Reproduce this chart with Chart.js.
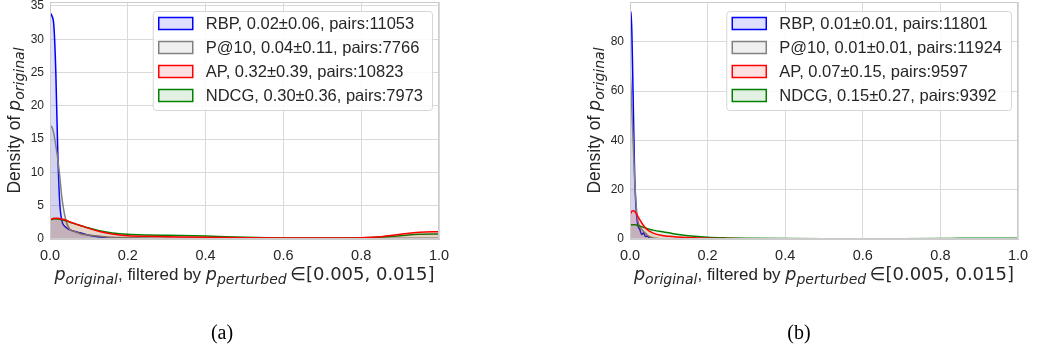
<!DOCTYPE html>
<html>
<head>
<meta charset="utf-8">
<script src="https://cdn.jsdelivr.net/npm/chart.js"></script>
<style>
  body { margin: 0; background: #fff; }
  #wrap { position: relative; width: 1041px; height: 348px; overflow: hidden; }
  canvas { position: absolute; top: 0; }
</style>
</head>
<body>
<div id="wrap">
  <canvas id="chartA" width="470" height="348" style="left:0px"></canvas>
  <canvas id="chartB" width="481" height="348" style="left:560px"></canvas>
</div>
<script>
// metrics, shared by both panels
const metrics = ['RBP', 'P@10', 'AP', 'NDCG'];
const lineColors = ['#0000ff', '#808080', '#ff0000', '#008000'];
const fillColors = ['rgba(0,0,255,0.13)', 'rgba(128,128,128,0.13)', 'rgba(255,0,0,0.12)', 'rgba(0,128,0,0.11)'];

// panel (a): legend stats
const meanA = ['0.02', '0.04', '0.32', '0.30'];
const sdA = ['0.06', '0.11', '0.39', '0.36'];
const pairsA = [11053, 7766, 10823, 7973];

// panel (a): density curves
const xA = [0, 0.005, 0.01, 0.015, 0.02, 0.025, 0.03, 0.04, 0.05, 0.06, 0.08, 0.1, 0.13, 0.16, 0.2, 0.25, 0.3, 0.4, 0.5, 0.6, 0.7, 0.8, 0.85, 0.9, 0.95, 1.0];
const rbpA = [34, 33.5, 32, 25, 13, 5.5, 2.9, 1.8, 1.4, 1.2, 0.9, 0.55, 0.3, 0.12, 0.08, 0.05, 0.05, 0.05, 0.04, 0.04, 0.04, 0.04, 0.04, 0.04, 0.04, 0.04];
const p10A = [17, 16.8, 15.8, 14, 12, 9.5, 6.5, 3, 1.5, 1.2, 0.75, 0.6, 0.4, 0.25, 0.2, 0.15, 0.12, 0.1, 0.1, 0.1, 0.1, 0.1, 0.1, 0.1, 0.1, 0.1];
const apA = [2.9, 3.0, 3.1, 3.1, 3.1, 3.05, 3.0, 2.85, 2.6, 2.4, 2.0, 1.6, 1.1, 0.75, 0.5, 0.4, 0.35, 0.25, 0.18, 0.15, 0.15, 0.2, 0.35, 0.7, 1.0, 1.1];
const ndcgA = [2.8, 2.95, 3.0, 3.0, 3.0, 2.95, 2.9, 2.75, 2.55, 2.35, 2.0, 1.65, 1.2, 0.9, 0.7, 0.6, 0.55, 0.45, 0.25, 0.15, 0.15, 0.2, 0.3, 0.5, 0.7, 0.75];

// panel (b): legend stats
const meanB = ['0.01', '0.01', '0.07', '0.15'];
const sdB = ['0.01', '0.01', '0.15', '0.27'];
const pairsB = [11801, 11924, 9597, 9392];

// panel (b): density curves
const xB = [0, 0.003, 0.006, 0.009, 0.012, 0.015, 0.018, 0.021, 0.025, 0.03, 0.035, 0.04, 0.045, 0.05, 0.06, 0.08, 0.1, 0.12, 0.15, 0.2, 0.25, 0.3, 0.4, 0.5, 0.6, 0.7, 0.8, 0.85, 0.9, 1.0];
const rbpB = [88, 92, 75, 50, 26, 14, 8, 5, 4, 1.8, 2.5, 1.0, 1.2, 0.3, 0.1, 0, 0, 0, 0, 0, 0, 0, 0, 0, 0, 0, 0, 0, 0, 0];
const p10B = [69, 60, 48, 36, 24, 16, 10, 7, 5, 4, 3, 2.3, 1.5, 0.9, 0.4, 0.1, 0, 0, 0, 0, 0, 0, 0, 0, 0, 0, 0, 0, 0, 0];
const apB = [9.7, 10.8, 11.4, 11.5, 11.2, 10.6, 9.8, 9.0, 7.9, 6.6, 5.5, 4.5, 3.8, 3.2, 2.4, 1.5, 1.1, 0.85, 0.6, 0.3, 0.2, 0.15, 0.1, 0.15, 0.15, 0.1, 0.05, 0.05, 0.05, 0.05];
const ndcgB = [5.6, 5.7, 5.8, 5.8, 5.8, 5.7, 5.6, 5.5, 5.3, 5.0, 4.8, 4.5, 4.2, 4.0, 3.6, 3.0, 2.5, 1.9, 1.3, 0.7, 0.45, 0.32, 0.18, 0.1, 0.08, 0.1, 0.2, 0.3, 0.35, 0.35];

const SANS = "'Liberation Sans', Arial, sans-serif";
const MATH = "'DejaVu Sans', sans-serif";
const INK = '#262626';

function pSub(sub) {
  return [
    { t: 'p', font: `italic 17.5px ${MATH}` },
    { t: sub, font: `italic 14px ${MATH}`, dy: 4 }
  ];
}
const xTitle = [
  ...pSub('original'),
  { t: ', filtered by ', font: `17px ${SANS}` },
  ...pSub('perturbed'),
  { t: '\u2009\u2208[0.005, 0.015]', font: `18px ${MATH}` }
];
const yTitle = [{ t: 'Density of ', font: `17.5px ${SANS}` }, ...pSub('original')];

function drawRich(ctx, parts, x, y) {
  let w = 0;
  parts.forEach(p => { ctx.font = p.font; p.w = ctx.measureText(p.t).width; w += p.w; });
  let cx = x - w / 2;
  parts.forEach(p => { ctx.font = p.font; ctx.fillText(p.t, cx, y + (p.dy || 0)); cx += p.w; });
}

// frame, legend, axis titles and caption
const decor = {
  id: 'decor',
  afterDatasetsDraw(chart, args, o) {
    const { ctx, chartArea: a } = chart;
    ctx.save();
    ctx.strokeStyle = '#cccccc';
    ctx.lineWidth = 1;
    ctx.strokeRect(a.left + 0.5, a.top + 0.5, a.right - a.left - 1, a.bottom - a.top - 1);

    // legend box in the upper right
    ctx.font = `16.5px ${SANS}`;
    const tw = Math.max(...o.labels.map(l => ctx.measureText(l).width));
    const bw = 5 + 34 + 13 + tw + 10;
    const bx = a.right - 7 - bw, by = a.top + 9, bh = 99;
    ctx.beginPath();
    ctx.roundRect(bx + 0.5, by + 0.5, bw, bh, 3);
    ctx.fillStyle = 'rgba(255,255,255,0.85)';
    ctx.fill();
    ctx.strokeStyle = '#d6d6d6';
    ctx.stroke();
    o.labels.forEach((l, i) => {
      const cy = by + 12.5 + i * 24;
      ctx.fillStyle = fillColors[i];
      ctx.fillRect(bx + 6, cy - 6, 34, 12);
      ctx.strokeStyle = lineColors[i];
      ctx.lineWidth = 1.5;
      ctx.strokeRect(bx + 6, cy - 6, 34, 12);
      ctx.fillStyle = INK;
      ctx.textBaseline = 'middle';
      ctx.fillText(l, bx + 6 + 34 + 13, cy + 1);
    });
    ctx.restore();
  },
  afterDraw(chart, args, o) {
    const { ctx, chartArea: a } = chart;
    ctx.save();
    ctx.fillStyle = INK;
    ctx.textBaseline = 'alphabetic';
    drawRich(ctx, xTitle, (a.left + a.right) / 2, 280);
    ctx.translate(a.left - 30, (a.top + a.bottom) / 2);
    ctx.rotate(-Math.PI / 2);
    drawRich(ctx, yTitle, 0, 0);
    ctx.restore();
    ctx.save();
    ctx.fillStyle = '#000';
    ctx.font = "20px 'Liberation Serif', serif";
    ctx.textAlign = 'center';
    ctx.fillText(o.caption, o.captionX, 339);
    ctx.restore();
  }
};

function makeChart(id, xs, ys, means, sds, pairs, yMax, yStep, plotLeft, plotRight, canvasLeft, canvasWidth, caption, captionX) {
  const labels = metrics.map((m, i) => `${m}, ${means[i]}\u00b1${sds[i]}, pairs:${pairs[i]}`);
  const drawOrder = [4, 3, 1, 2];
  const datasets = metrics.map((m, i) => ({
    label: m,
    data: xs.map((x, j) => ({ x: x, y: ys[i][j] })),
    borderColor: lineColors[i],
    backgroundColor: fillColors[i],
    borderWidth: 1.5,
    pointRadius: 0,
    fill: 'origin',
    cubicInterpolationMode: 'monotone',
    order: drawOrder[i]
  }));
  return new Chart(document.getElementById(id), {
    type: 'line',
    data: { datasets },
    plugins: [decor],
    options: {
      responsive: false,
      animation: false,
      layout: { padding: { left: 0, top: 2, bottom: 0, right: canvasWidth - (plotRight - canvasLeft) } },
      plugins: {
        legend: { display: false },
        tooltip: { enabled: false },
        decor: { labels, caption, captionX: captionX - canvasLeft }
      },
      scales: {
        x: {
          type: 'linear',
          min: 0,
          max: 1,
          grid: { color: '#dadada', drawTicks: false },
          border: { color: '#cccccc' },
          ticks: { stepSize: 0.2, padding: 8, color: INK, font: { family: SANS, size: 14.5 }, callback: v => v.toFixed(1) },
          afterFit: s => { s.height = 348 - 239; s.paddingLeft = 0; s.paddingRight = 0; }
        },
        y: {
          min: 0,
          max: yMax,
          grid: { color: '#dadada', drawTicks: false },
          border: { color: '#cccccc' },
          ticks: { stepSize: yStep, includeBounds: false, padding: 6, color: INK, font: { family: SANS, size: 12 } },
          afterFit: s => { s.width = plotLeft - canvasLeft; s.paddingTop = 0; s.paddingBottom = 0; }
        }
      }
    }
  });
}

makeChart('chartA', xA, [rbpA, p10A, apA, ndcgA], meanA, sdA, pairsA, 35.6, 5, 50, 439, 0, 470, '(a)', 222);
makeChart('chartB', xB, [rbpB, p10B, apB, ndcgB], meanB, sdB, pairsB, 96.1, 20, 630, 1018, 560, 481, '(b)', 799);
</script>
</body>
</html>
